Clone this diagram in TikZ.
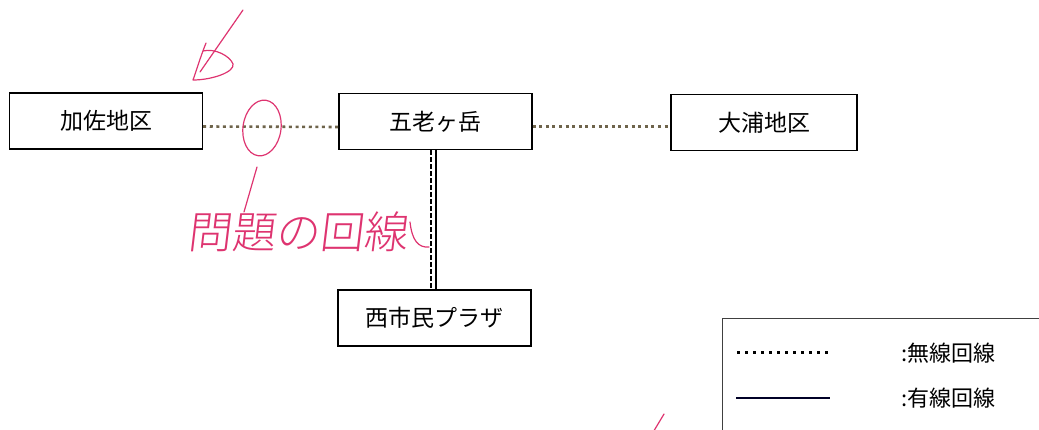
\documentclass[tikz,border=0pt]{standalone}
\usepackage{fontspec}
\newfontfamily\jp{Noto Sans CJK JP}
\newfontfamily\hand[FakeSlant=0.12]{Noto Sans CJK JP Light}
\definecolor{dotline}{RGB}{110,100,75}
\definecolor{pen}{RGB}{222,52,112}
\tikzset{
  box/.style={draw, line width=1.3pt, minimum width=193pt, minimum height=56pt, inner sep=0pt, font=\jp\fontsize{23}{23}\selectfont},
  wireless/.style={draw=dotline, line width=2.6pt, dash pattern=on 3pt off 3.6pt},
  wireddash/.style={draw, line width=2pt, dash pattern=on 5pt off 2pt},
  wired/.style={draw, line width=2pt},
  legdot/.style={draw, line width=3pt, dash pattern=on 3pt off 5pt},
  legsolid/.style={draw=black!85!blue, line width=2.6pt},
  legtext/.style={anchor=west, inner sep=0pt, font=\jp\fontsize{22}{22}\selectfont},
  pencil/.style={draw=pen, line width=1.2pt, line cap=round, line join=round}
}
\begin{document}
\begin{tikzpicture}[x=1pt,y=-1pt]
\useasboundingbox (0,0) rectangle (1039,430);
\clip (0,0) rectangle (1039,430);
% boxes
\node[box] (kasa) at (106,121) {加佐地区};
\node[box] (gorou) at (435.5,121.5) {五老ヶ岳};
\node[box, minimum width=186pt] (oura) at (764,122.5) {大浦地区};
\node[box] (plaza) at (434.5,318) {西市民プラザ};
% wireless links
\draw[wireless] ([yshift=-5.5pt]kasa.east) -- ([yshift=-5.5pt]gorou.west);
\draw[wireless] ([yshift=-5pt]gorou.east) -- ([yshift=-5pt]gorou.east -| oura.west);
% double vertical link
\draw[wireddash] ([xshift=-4.5pt]gorou.south) -- ([xshift=-4.5pt]gorou.south |- plaza.north);
\draw[wired] ([xshift=0.8pt]gorou.south) -- ([xshift=0.8pt]gorou.south |- plaza.north);
% legend
\coordinate (lgtl) at (722,319);
\coordinate (lgtr) at (1060,319);
\coordinate (lgbl) at (722,450);
\draw[line width=1pt, black!75] (lgtr) -- (lgtl) -- (lgbl);
\coordinate (d1) at (737,353);
\coordinate (d2) at (830,353);
\draw[legdot] (d1) -- (d2);
\node[legtext] (t1) at (901,353) {:無線回線};
\coordinate (s1) at (736,398);
\coordinate (s2) at (830,398);
\draw[legsolid] (s1) -- (s2);
\node[legtext] (t2) at (901,398) {:有線回線};
% handwritten annotations
\coordinate (a1) at (243,10);
\coordinate (a2) at (200,72);
\draw[pencil] (a1) -- (a2);
\draw[pencil] (206,43) .. controls (200,58) and (196,72) .. (193,80)
  .. controls (212,80) and (235,72) .. (233,64)
  .. controls (230,56) and (215,48) .. (203,51);
\draw[pencil, rotate around={-8:(262,128)}] (262,128) ellipse [x radius=19, y radius=28];
\coordinate (c1) at (257,167);
\coordinate (c2) at (244,212);
\draw[pencil] (c1) -- (c2);
\node[text=pen, font=\hand\fontsize{44}{44}\selectfont, inner sep=0pt] (note) at (297,232) {問題の回線};
\coordinate (k1) at (410,222);
\coordinate (k2) at (429,247);
\draw[pencil] (k1) .. controls (412,240) and (418,248) .. (k2);
\coordinate (m1) at (664,414);
\coordinate (m2) at (652,434);
\draw[pencil] (m1) -- (m2);
\end{tikzpicture}
\end{document}
